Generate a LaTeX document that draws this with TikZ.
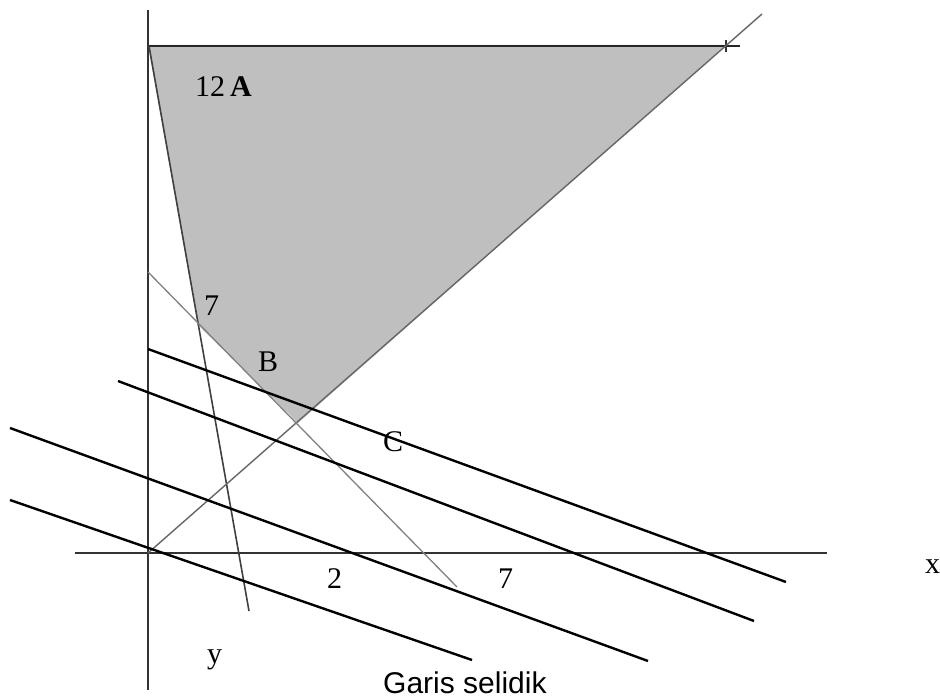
\documentclass[tikz,border=0pt]{standalone}
\usepackage{fontspec}
\setmainfont{Liberation Serif}
\newfontfamily\labelsans{Liberation Sans}
\begin{document}
\begin{tikzpicture}[x=1pt,y=-1pt,
  axisline/.style={draw=black!80, line width=1.4pt},
  boundline/.style={draw=black!75, line width=1.6pt},
  selidik/.style={draw=black, line width=2.4pt},
  lbl/.style={anchor=base west, inner sep=0pt, font=\fontsize{30}{34}\selectfont}]
\useasboundingbox (0,0) rectangle (940,698);
% shaded feasible region
\fill[fill=black!25] (148,45) -- (726,45) -- (298,423) -- (198,325) -- cycle;
% axes
\draw[axisline] (148,10) -- (148,690);
\draw[axisline] (75,553) -- (827,553);
% constraint lines
\coordinate (o) at (148,553);
\coordinate (a) at (149,46);
\draw[boundline, draw=black!85, line width=1.8pt] (a) -- (740,46);
\draw[axisline] (726,40) -- (726,52);
\draw[boundline] (a) -- (249,611);
\draw[draw=black!60, line width=1.4pt] (o) -- (762,14);
\draw[draw=black!50, line width=1.3pt] (148,272) -- (457,587);
% garis selidik
\draw[selidik] (148,349) -- (786,582);
\draw[selidik] (118,381) -- (754,621);
\draw[selidik] (10,428) -- (648,661);
\draw[selidik] (10,500) -- (472,660);
% labels
\node[lbl] (lA) at (195,97) {12\,\textbf{A}};
\node[lbl] (l7a) at (204,315) {7};
\node[lbl] (lB) at (258,371) {B};
\node[lbl] (lC) at (383,451) {C};
\node[lbl] (l2) at (327,588) {2};
\node[lbl] (l7b) at (498,588) {7};
\node[lbl] (lx) at (925,573) {x};
\node[lbl] (ly) at (207,663) {y};
\node[lbl, font=\labelsans\fontsize{30}{34}\selectfont] (lgs) at (383,693) {Garis selidik};
\end{tikzpicture}
\end{document}
